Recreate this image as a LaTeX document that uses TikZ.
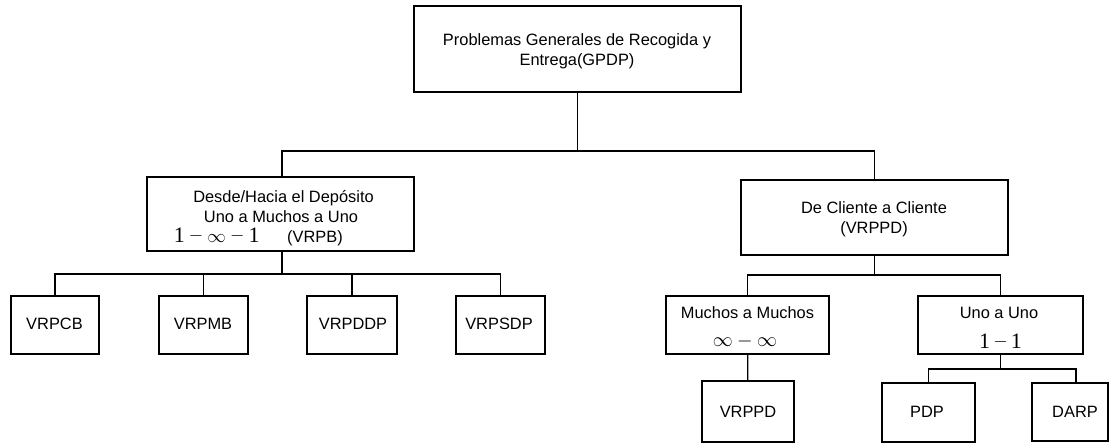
\documentclass[tikz,border=0pt]{standalone}
\usepackage{fix-cm}
\usepackage{fontspec}
\setmainfont{Liberation Serif}
\setsansfont{Liberation Sans}
% large serif digit and lifted minus for the cardinality formulas
\newcommand\bigone{\mbox{\fontsize{22}{22}\selectfont 1}}
\newcommand\liftminus{\mathbin{\raisebox{1.8pt}{$-$}}}
\begin{document}
\begin{tikzpicture}[x=1pt,y=-1pt,
  box/.style={draw=black,line width=1.2pt,inner sep=0pt},
  lbl/.style={anchor=base,inner sep=0pt,font=\sffamily\fontsize{16.4}{20}\selectfont},
  mth/.style={anchor=base,inner sep=0pt,font=\fontsize{18.5}{20}\selectfont},
  wire/.style={line width=1.2pt,draw=black}]
\useasboundingbox (0,0) rectangle (1109,443);

% ---- boxes ----
\node[box,minimum width=327,minimum height=86] (top) at (577.5,49) {};
\node[box,minimum width=267,minimum height=74] (desde) at (280.5,214) {};
\node[box,minimum width=267,minimum height=75] (cliente) at (874.5,217.5) {};
\node[box,minimum width=88,minimum height=58] (vrpcb) at (55,325) {};
\node[box,minimum width=89,minimum height=58] (vrpmb) at (203.5,325) {};
\node[box,minimum width=90,minimum height=58] (vrpddp) at (352,325) {};
\node[box,minimum width=89,minimum height=58] (vrpsdp) at (500.5,325) {};
\node[box,minimum width=163,minimum height=58] (muchos) at (747.5,325) {};
\node[box,minimum width=165,minimum height=58] (uno) at (1000.5,325) {};
\node[box,minimum width=92,minimum height=61] (vrppd) at (748,411.5) {};
\node[box,minimum width=93,minimum height=59] (pdp) at (928.5,412.5) {};
\node[box,minimum width=76,minimum height=58] (darp) at (1070,412) {};

% ---- texts ----
\node[lbl] (topa) at (577,45.7) {Problemas Generales de Recogida y};
\node[lbl] (topb) at (577,65.7) {Entrega(GPDP)};
\node[lbl] (desdea) at (283.5,203) {Desde/Hacia el Depósito};
\node[lbl] (desdeb) at (281,223) {Uno a Muchos a Uno};
\node[mth,anchor=base west] (desdec) at (173.6,242.5)
  {$\bigone\liftminus\infty\liftminus\bigone$};
\node[lbl,anchor=base west] (desded) at (287,242.5) {(VRPB)};
\node[lbl] (clientea) at (874,213.3) {De Cliente a Cliente};
\node[lbl] (clienteb) at (874,233.5) {(VRPPD)};
\node[lbl] (t1) at (54.5,330) {VRPCB};
\node[lbl] (t2) at (203,330) {VRPMB};
\node[lbl] (t3) at (353,330) {VRPDDP};
\node[lbl] (t4) at (499,330) {VRPSDP};
\node[lbl] (muchosa) at (747.5,319) {Muchos a Muchos};
\node[mth,font=\fontsize{20}{22}\selectfont] (muchosb) at (745,346.5) {$\infty-\infty$};
\node[lbl] (unoa) at (999,319) {Uno a Uno};
\node[mth] (unob) at (1000.5,348.3) {$\medmuskip=3mu\bigone\liftminus\bigone$};
\node[lbl] (t5) at (748,417.3) {VRPPD};
\node[lbl] (t6) at (927,417.3) {PDP};
\node[lbl] (t7) at (1075,417.3) {DARP};

% ---- connectors ----
\coordinate (j1) at (577.5,151);
\coordinate (j2) at (282,274);
\coordinate (j3) at (874.5,275);
\coordinate (j4) at (1000.5,369);
\coordinate (darpin) at (1076,383);

\draw[wire] (top) -- (j1);
\draw[wire] (desde.north -| j2) |- (j1) -| (cliente.north);
\draw[wire] (desde.south -| j2) -- (j2);
\draw[wire] (vrpcb.north) |- (j2) -| (vrpsdp.north);
\draw[wire] (vrpmb.north) -- (vrpmb.north |- j2);
\draw[wire] (vrpddp.north) -- (vrpddp.north |- j2);
\draw[wire] (cliente) -- (j3);
\draw[wire] (muchos.north) |- (j3) -| (uno.north);
\draw[wire] (muchos) -- (vrppd);
\draw[wire] (uno) -- (j4);
\draw[wire] (pdp.north) |- (j4) -| (darpin);
\end{tikzpicture}
\end{document}
